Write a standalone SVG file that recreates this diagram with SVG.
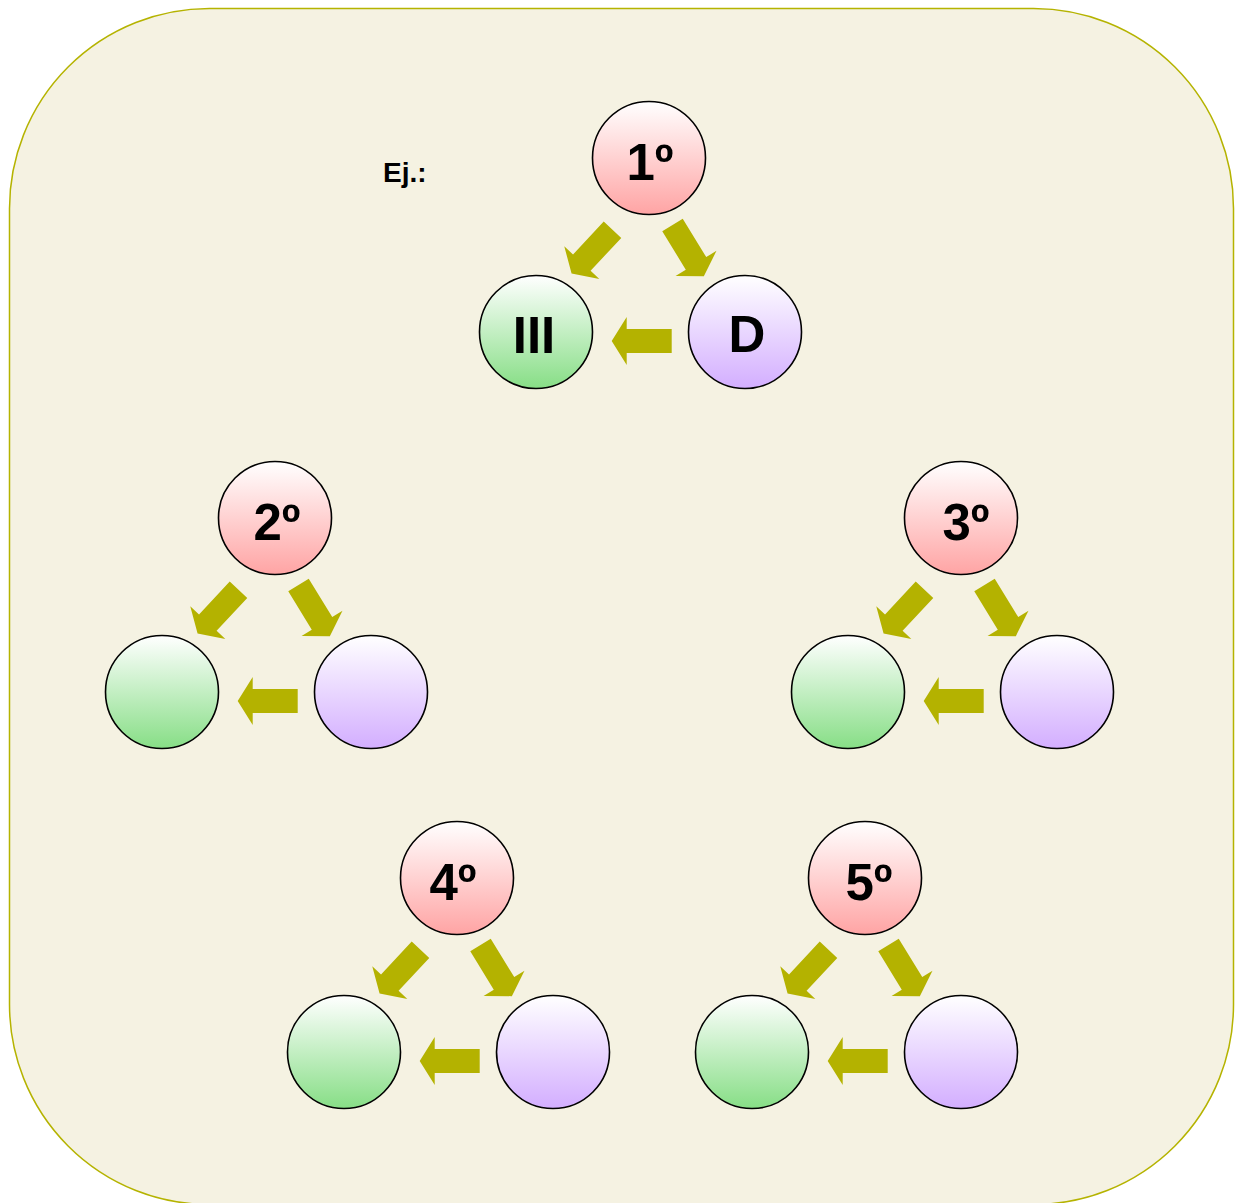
<svg xmlns="http://www.w3.org/2000/svg" xmlns:xlink="http://www.w3.org/1999/xlink" width="1237" height="1203" viewBox="0 0 1237 1203">
<defs>
<linearGradient id="gRed" x1="0" y1="0" x2="0" y2="1"><stop offset="0" stop-color="#FFFFFF"/><stop offset="1" stop-color="#FFA4A4"/></linearGradient>
<linearGradient id="gGreen" x1="0" y1="0" x2="0" y2="1"><stop offset="0" stop-color="#FFFFFF"/><stop offset="1" stop-color="#87DE86"/></linearGradient>
<linearGradient id="gPurple" x1="0" y1="0" x2="0" y2="1"><stop offset="0" stop-color="#FFFFFF"/><stop offset="1" stop-color="#D3AEFF"/></linearGradient>
<path id="arr" d="M0,-12 H45 V-24 L60,0 L45,24 V12 H0 Z"/>
</defs>
<style>
.bg{fill:#F5F2E2;stroke:#B5B300;stroke-width:1.5}
.n{stroke:#000;stroke-width:1.6}
.r{fill:url(#gRed)}
.g{fill:url(#gGreen)}
.p{fill:url(#gPurple)}
.t{font-family:"Liberation Sans",Arial,sans-serif;font-weight:bold;font-size:51px;text-anchor:middle;fill:#000}
.ej{font-family:"Liberation Sans",Arial,sans-serif;font-weight:bold;font-size:28px;fill:#000}
.a{fill:#B4B200}
</style>
<rect class="bg" x="9.5" y="8.5" width="1224" height="1196" rx="200" ry="200"/>
<text class="ej" x="383" y="182">Ej.:</text>
<g id="connectors">
<use xlink:href="#arr" class="a" transform="translate(612.5,229.7) rotate(133)"/>
<use xlink:href="#arr" class="a" transform="translate(672.5,225) rotate(58.5)"/>
<use xlink:href="#arr" class="a" transform="translate(671.7,341) rotate(180)"/>
<use xlink:href="#arr" class="a" transform="translate(238.5,589.7) rotate(133)"/>
<use xlink:href="#arr" class="a" transform="translate(298.5,585) rotate(58.5)"/>
<use xlink:href="#arr" class="a" transform="translate(297.7,701) rotate(180)"/>
<use xlink:href="#arr" class="a" transform="translate(924.5,589.7) rotate(133)"/>
<use xlink:href="#arr" class="a" transform="translate(984.5,585) rotate(58.5)"/>
<use xlink:href="#arr" class="a" transform="translate(983.7,701) rotate(180)"/>
<use xlink:href="#arr" class="a" transform="translate(420.5,949.7) rotate(133)"/>
<use xlink:href="#arr" class="a" transform="translate(480.5,945) rotate(58.5)"/>
<use xlink:href="#arr" class="a" transform="translate(479.7,1061) rotate(180)"/>
<use xlink:href="#arr" class="a" transform="translate(828.5,949.7) rotate(133)"/>
<use xlink:href="#arr" class="a" transform="translate(888.5,945) rotate(58.5)"/>
<use xlink:href="#arr" class="a" transform="translate(887.7,1061) rotate(180)"/>
</g>
<g id="n1"><circle class="n r" cx="649" cy="158" r="56.5"/><text class="t" x="650" y="180">1º</text></g>
<g id="n1-iii"><circle class="n g" cx="536" cy="332" r="56.5"/><text class="t" x="534" y="353">III</text></g>
<g id="n1-d"><circle class="n p" cx="745" cy="332" r="56.5"/><text class="t" x="747" y="352">D</text></g>
<g id="n2"><circle class="n r" cx="275" cy="518" r="56.5"/><text class="t" x="277" y="540">2º</text></g>
<g id="n2-g"><circle class="n g" cx="162" cy="692" r="56.5"/></g>
<g id="n2-p"><circle class="n p" cx="371" cy="692" r="56.5"/></g>
<g id="n3"><circle class="n r" cx="961" cy="518" r="56.5"/><text class="t" x="966" y="540">3º</text></g>
<g id="n3-g"><circle class="n g" cx="848" cy="692" r="56.5"/></g>
<g id="n3-p"><circle class="n p" cx="1057" cy="692" r="56.5"/></g>
<g id="n4"><circle class="n r" cx="457" cy="878" r="56.5"/><text class="t" x="453" y="900">4º</text></g>
<g id="n4-g"><circle class="n g" cx="344" cy="1052" r="56.5"/></g>
<g id="n4-p"><circle class="n p" cx="553" cy="1052" r="56.5"/></g>
<g id="n5"><circle class="n r" cx="865" cy="878" r="56.5"/><text class="t" x="869" y="900">5º</text></g>
<g id="n5-g"><circle class="n g" cx="752" cy="1052" r="56.5"/></g>
<g id="n5-p"><circle class="n p" cx="961" cy="1052" r="56.5"/></g>
</svg>
